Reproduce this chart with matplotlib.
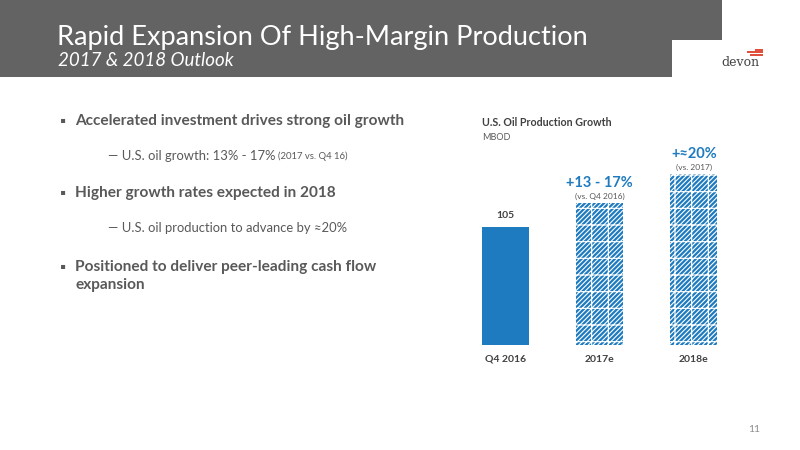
import numpy as np
import matplotlib.pyplot as plt
import matplotlib.patches as mpatches

plt.rcParams['font.family'] = ['Lato', 'DejaVu Sans']
plt.rcParams['hatch.linewidth'] = 0.8

# chart data
categories = ['Q4 2016', '2017e', '2018e']
production = [105, 126, 152]
hatched = [False, True, True]
growth_labels = ['105', '+13 - 17%', '+\u224820%']
growth_notes = ['', '(vs. Q4 2016)', '(vs. 2017)']

# slide text
title = 'Rapid Expansion Of High-Margin Production'
subtitle = '2017 & 2018 Outlook'
bullets = [
    ('main', 'Accelerated investment drives strong oil growth', 121),
    ('sub', '\u2014 U.S. oil growth: 13% - 17%', 156),
    ('main', 'Higher growth rates expected in 2018', 193),
    ('sub', '\u2014 U.S. oil production to advance by \u224820%', 228),
    ('main', 'Positioned to deliver peer-leading cash flow', 267),
    ('cont', 'expansion', 285),
]
sub_note = '(2017 vs. Q4 16)'

W, H = 800, 450
GRAY = '#636363'
TEXT = '#595959'
BLUE = '#1f7bbf'


def fx(px):
    return px / W


def fy(py):
    return 1 - py / H


fig = plt.figure(figsize=(8, 4.5), dpi=100)
fig.patch.set_facecolor('white')

# header block
fig.patches.append(mpatches.Rectangle((0, fy(40)), fx(722), 40 / H,
                                      transform=fig.transFigure, color=GRAY, lw=0))
fig.patches.append(mpatches.Rectangle((0, fy(77)), fx(672), 38 / H,
                                      transform=fig.transFigure, color=GRAY, lw=0))
fig.text(fx(57), fy(37), title, color='white', fontsize=19.5, fontweight='normal',
         va='center', ha='left')
fig.text(fx(58), fy(60), subtitle, color='white', fontsize=13.5, style='italic',
         va='center', ha='left')

# logo
for i, (x0, x1) in enumerate([(755, 763), (747, 763), (750, 763)]):
    fig.patches.append(mpatches.Rectangle((fx(x0), fy(50.8 + i * 2.4)), fx(x1 - x0), 1.8 / H,
                                          transform=fig.transFigure, color='#e0503c', lw=0))
fig.text(fx(740), fy(63), 'devon', color='#444444', fontsize=9, family='DejaVu Serif',
         va='center', ha='center')

# bullets
renderer = fig.canvas.get_renderer()
for kind, txt, py in bullets:
    if kind == 'main':
        fig.text(fx(60), fy(py + 1), '\u25aa', color=TEXT, fontsize=11, va='center', ha='left')
    if kind in ('main', 'cont'):
        fig.text(fx(75), fy(py), txt, color=TEXT, fontsize=11.1, fontweight='bold',
                 va='center', ha='left')
    else:
        t = fig.text(fx(108), fy(py), txt, color=TEXT, fontsize=9.4, va='center', ha='left')
        if '13%' in txt:
            bb = t.get_window_extent(renderer)
            fig.text(bb.x1 / W + fx(3), fy(py), sub_note, color=TEXT, fontsize=6.8,
                     va='center', ha='left')

# chart
ax = fig.add_axes([fx(458), fy(345), fx(741 - 458), (345 - 150) / H])
x = np.arange(len(categories))
for xi, val, h in zip(x, production, hatched):
    if h:
        ax.bar(xi, val, width=0.5, color=BLUE, edgecolor='white', linewidth=0,
               hatch='///////+')
    else:
        ax.bar(xi, val, width=0.5, color=BLUE, linewidth=0)

ax.set_xlim(-0.5, 2.5)
ax.set_ylim(0, 173)
for s in ax.spines.values():
    s.set_visible(False)
ax.set_yticks([])
ax.set_xticks(x)
ax.set_xticklabels(categories, fontsize=7.5, fontweight='bold', color='#404040')
ax.tick_params(axis='x', length=0, pad=7)

for xi, val, lab, note in zip(x, production, growth_labels, growth_notes):
    if note:
        ax.annotate(note, (xi, val), xytext=(0, 2), textcoords='offset points',
                    ha='center', va='bottom', fontsize=6, color='#595959')
        ax.annotate(lab, (xi, val), xytext=(0, 9), textcoords='offset points',
                    ha='center', va='bottom', fontsize=10.5, fontweight='bold', color=BLUE)
    else:
        ax.annotate(lab, (xi, val), xytext=(0, 5), textcoords='offset points',
                    ha='center', va='bottom', fontsize=7.5, fontweight='bold', color='#404040')

fig.text(fx(482), fy(123), 'U.S. Oil Production Growth', color='#404040', fontsize=7.7,
         fontweight='bold', va='center', ha='left')
fig.text(fx(482), fy(137), 'MBOD', color='#595959', fontsize=6.5, va='center', ha='left')

fig.text(fx(760), fy(430), '11', color='#8c8c8c', fontsize=7.5, va='center', ha='right')

fig.savefig('out.png', dpi=100, facecolor='white')
